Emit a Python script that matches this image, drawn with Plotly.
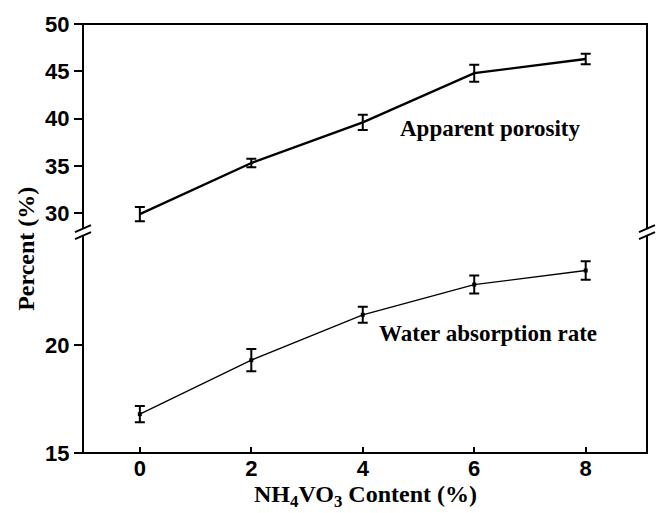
import plotly.graph_objects as go

content = [0, 2, 4, 6, 8]
porosity = [29.9, 35.3, 39.6, 44.8, 46.3]
porosity_err = [0.75, 0.45, 0.8, 0.9, 0.55]
absorption = [16.8, 19.3, 21.4, 22.8, 23.45]
absorption_err = [0.38, 0.52, 0.37, 0.42, 0.43]
x_ticks = [0, 2, 4, 6, 8]
top_ticks = [30, 35, 40, 45, 50]
bottom_ticks = [15, 20]

def bold(vals):
    return ["<b>%d</b>" % v for v in vals]

SPLIT = 0.515
fig = go.Figure()
fig.add_trace(go.Scatter(
    x=content, y=porosity, yaxis="y2", mode="lines",
    line=dict(color="black", width=2.4),
    error_y=dict(type="data", array=porosity_err, color="black", thickness=2, width=5),
    showlegend=False))
fig.add_trace(go.Scatter(
    x=content, y=absorption, yaxis="y", mode="lines+markers",
    line=dict(color="black", width=1.3),
    marker=dict(color="black", size=4, symbol="square"),
    error_y=dict(type="data", array=absorption_err, color="black", thickness=2, width=5),
    showlegend=False))

tickfont = dict(family="Liberation Sans", size=22, color="black")
fig.update_layout(
    width=661, height=513, margin=dict(l=83, r=14, t=20, b=60),
    plot_bgcolor="white", paper_bgcolor="white",
    xaxis=dict(range=[-1.02, 9.1], tickvals=x_ticks, ticktext=bold(x_ticks),
               ticks="inside", ticklen=6,
               tickwidth=1.5, tickcolor="black", showgrid=False, zeroline=False,
               showline=False, tickfont=tickfont, anchor="y"),
    yaxis=dict(domain=[0, SPLIT], range=[15, 25.23], tickvals=bottom_ticks,
               ticktext=bold(bottom_ticks),
               ticks="outside", ticklen=8, tickwidth=1.5, tickcolor="black",
               showgrid=False, zeroline=False, showline=False, tickfont=tickfont),
    yaxis2=dict(domain=[SPLIT, 1], range=[28.0, 50], tickvals=top_ticks,
                ticktext=bold(top_ticks),
                ticks="outside", ticklen=8, tickwidth=1.5, tickcolor="black",
                showgrid=False, zeroline=False, showline=False, tickfont=tickfont,
                anchor="x"),
)

shapes = [dict(type="rect", xref="paper", yref="paper", x0=0, x1=1, y0=0, y1=1,
               line=dict(color="black", width=2), fillcolor="rgba(0,0,0,0)")]
for xa in (0, 1):
    shapes.append(dict(type="rect", xref="paper", yref="paper", xsizemode="pixel",
                       ysizemode="pixel", xanchor=xa, yanchor=SPLIT,
                       x0=-3, x1=3, y0=-3, y1=3, line=dict(width=0), fillcolor="white"))
    for dy in (-3.5, 3.5):
        shapes.append(dict(type="line", xref="paper", yref="paper", xsizemode="pixel",
                           ysizemode="pixel", xanchor=xa, yanchor=SPLIT,
                           x0=-8, x1=8, y0=dy - 3.5, y1=dy + 3.5,
                           line=dict(color="black", width=2)))
fig.update_layout(shapes=shapes)

serif = "Liberation Serif"
fig.add_annotation(text="<b>Apparent porosity</b>", xref="x", yref="y2", x=4.63, y=39.0,
                   xanchor="left", yanchor="middle", showarrow=False,
                   font=dict(family=serif, size=23, color="black"))
fig.add_annotation(text="<b>Water absorption rate</b>", xref="x", yref="y", x=4.25, y=20.55,
                   xanchor="left", yanchor="middle", showarrow=False,
                   font=dict(family=serif, size=23, color="black"))
fig.add_annotation(text="<b>Percent (%)</b>", xref="paper", yref="paper", x=-0.1, y=0.475,
                   xanchor="center", yanchor="middle", textangle=-90, showarrow=False,
                   font=dict(family=serif, size=24, color="black"))
fig.add_annotation(text="<b>NH<sub>4</sub>VO<sub>3</sub> Content (%)</b>", xref="paper",
                   yref="paper", x=0.5, y=-0.1, xanchor="center", yanchor="middle",
                   showarrow=False,
                   font=dict(family=serif, size=24, color="black"))

fig.write_html("out.html")
